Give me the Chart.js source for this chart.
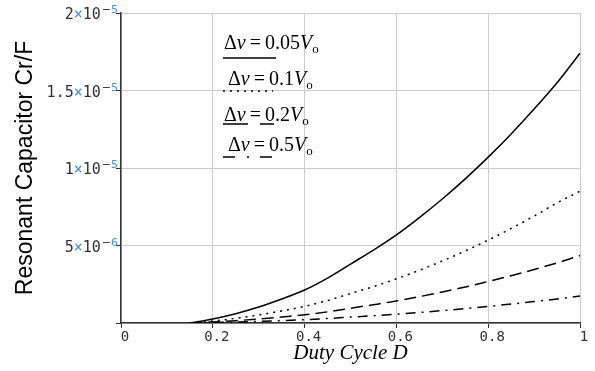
<!DOCTYPE html>
<html>
<head>
<meta charset="utf-8">
<script src="https://cdn.jsdelivr.net/npm/chart.js@4/dist/chart.umd.min.js"></script>
<style>
  html, body { margin: 0; padding: 0; background: #fff; }
  #wrap { width: 595px; height: 371px; position: relative; }
</style>
</head>
<body>
<div id="wrap"><canvas id="chart"></canvas></div>
<script>
// values (Farad)
const dutyCycle = [0.15, 0.2, 0.25, 0.3, 0.35, 0.4, 0.45, 0.5, 0.55, 0.6, 0.65, 0.7, 0.75, 0.8, 0.85, 0.9, 0.95, 1.0];
const crDv005 = [0, 0.26e-6, 0.6e-6, 1.03e-6, 1.55e-6, 2.13e-6, 2.9e-6, 3.8e-6, 4.7e-6, 5.68e-6, 6.8e-6, 8.0e-6, 9.3e-6, 10.7e-6, 12.2e-6, 13.8e-6, 15.5e-6, 17.4e-6];
const crDv01  = [0, 0.13e-6, 0.3e-6, 0.52e-6, 0.78e-6, 1.07e-6, 1.45e-6, 1.9e-6, 2.35e-6, 2.85e-6, 3.4e-6, 4.0e-6, 4.65e-6, 5.35e-6, 6.1e-6, 6.9e-6, 7.75e-6, 8.5e-6];
const crDv02  = [0, 0.07e-6, 0.15e-6, 0.26e-6, 0.39e-6, 0.53e-6, 0.72e-6, 0.95e-6, 1.18e-6, 1.42e-6, 1.7e-6, 2.0e-6, 2.32e-6, 2.68e-6, 3.05e-6, 3.45e-6, 3.88e-6, 4.35e-6];
const crDv05  = [0, 0.03e-6, 0.06e-6, 0.1e-6, 0.16e-6, 0.21e-6, 0.29e-6, 0.38e-6, 0.47e-6, 0.57e-6, 0.68e-6, 0.8e-6, 0.93e-6, 1.07e-6, 1.22e-6, 1.38e-6, 1.55e-6, 1.74e-6];

const legendValues = ['0.05', '0.1', '0.2', '0.5'];

const xTickLabels = ['0', '0.2', '0.4', '0.6', '0.8', '1'];
const yTickValues = [5e-6, 1e-5, 1.5e-5, 2e-5];
const yTickMantissa = ['5', '1', '1.5', '2'];
const yTickExponent = ['6', '5', '5', '5'];

function pts(ys) {
    return dutyCycle.map((d, i) => ({ x: d, y: ys[i] }));
}

// Mathcad style y labels: mantissa ×10 with superscript exponent
const yLabelPlugin = {
    id: 'yLabels',
    afterDraw(chart) {
        const ctx = chart.ctx;
        const y = chart.scales.y;
        ctx.save();
        yTickValues.forEach((v, i) => {
            const py = y.getPixelForValue(v);
            let xr = 118;
            ctx.textBaseline = 'alphabetic';
            ctx.textAlign = 'right';
            ctx.font = '11px "DejaVu Sans"';
            ctx.fillStyle = '#4a90d9';
            ctx.fillText(yTickExponent[i], xr, py);
            xr -= ctx.measureText(yTickExponent[i]).width;
            ctx.fillStyle = '#333';
            ctx.fillText('\u2212', xr, py);
            xr -= ctx.measureText('\u2212').width + 1;
            ctx.font = '15px "DejaVu Sans Mono"';
            ctx.fillStyle = '#333';
            ctx.fillText('10', xr, py + 6);
            xr -= ctx.measureText('10').width;
            ctx.fillStyle = '#4a90d9';
            ctx.fillText('\u00d7', xr, py + 6);
            xr -= ctx.measureText('\u00d7').width;
            ctx.fillStyle = '#333';
            ctx.fillText(yTickMantissa[i], xr, py + 6);
        });
        ctx.restore();
    }
};

// legend written like the equation block in the original
const legendPlugin = {
    id: 'eqLegend',
    afterDraw(chart) {
        const ctx = chart.ctx;
        const rows = [
            { tx: 224, ty: 49, ly: 58, dash: [], x0: 223, x1: 276 },
            { tx: 228, ty: 85, ly: 91, dash: [2, 5], x0: 223, x1: 273 },
            { tx: 224, ty: 121, ly: 124, dash: [25, 12], x0: 223, x1: 274 },
            { tx: 228, ty: 151, ly: 157, dash: [12, 12, 2, 11], x0: 223, x1: 272 }
        ];
        ctx.save();
        ctx.fillStyle = '#000';
        ctx.textBaseline = 'alphabetic';
        ctx.textAlign = 'left';
        rows.forEach((r, i) => {
            let x = r.tx;
            const part = (txt, font, dy) => {
                ctx.font = font;
                ctx.fillText(txt, x, r.ty + (dy || 0));
                x += ctx.measureText(txt).width;
            };
            part('\u0394', '20px "Liberation Serif"');
            part('v', 'italic 20px "Liberation Serif"');
            x += 4;
            part('=', '20px "Liberation Serif"');
            x += 4;
            part(legendValues[i], '20px "Liberation Serif"');
            part('V', 'italic 20px "Liberation Serif"');
            part('o', '13px "Liberation Serif"', 4);

            ctx.strokeStyle = '#000';
            ctx.lineWidth = 1.5;
            ctx.setLineDash(r.dash);
            ctx.beginPath();
            ctx.moveTo(r.x0, r.ly);
            ctx.lineTo(r.x1, r.ly);
            ctx.stroke();
        });
        ctx.restore();
    }
};

const lineStyle = {
    borderColor: '#000',
    borderWidth: 1.5,
    pointRadius: 0,
    fill: false,
    cubicInterpolationMode: 'monotone'
};

new Chart(document.getElementById('chart'), {
    type: 'line',
    data: {
        datasets: [
            Object.assign({ label: '\u0394v = 0.05Vo', data: pts(crDv005), borderDash: [] }, lineStyle),
            Object.assign({ label: '\u0394v = 0.1Vo', data: pts(crDv01), borderDash: [2, 5] }, lineStyle),
            Object.assign({ label: '\u0394v = 0.2Vo', data: pts(crDv02), borderDash: [12, 6] }, lineStyle),
            Object.assign({ label: '\u0394v = 0.5Vo', data: pts(crDv05), borderDash: [10, 6, 2, 6] }, lineStyle)
        ]
    },
    options: {
        responsive: true,
        maintainAspectRatio: false,
        animation: false,
        layout: { padding: { top: 13, right: 15, left: 0, bottom: 0 } },
        plugins: {
            legend: { display: false },
            tooltip: { enabled: false }
        },
        scales: {
            x: {
                type: 'linear',
                min: 0,
                max: 1,
                ticks: {
                    stepSize: 0.2,
                    padding: 1,
                    labelOffset: 4,
                    color: '#333',
                    font: { family: 'DejaVu Sans Mono', size: 14 },
                    callback: (v, i) => xTickLabels[i]
                },
                grid: { color: '#cccccc', lineWidth: 1, tickLength: 5, tickColor: '#333' },
                border: { color: '#333', width: 1.5 },
                title: {
                    display: true,
                    text: 'Duty Cycle D',
                    color: '#000',
                    font: { family: 'Liberation Serif', style: 'italic', size: 21 },
                    padding: { top: 0, bottom: 5 }
                },
                afterFit(s) { s.height = 48; }
            },
            y: {
                min: 0,
                max: 2e-5,
                ticks: { stepSize: 5e-6, display: false },
                grid: { color: '#cccccc', lineWidth: 1, tickLength: 5, tickColor: '#333' },
                border: { color: '#333', width: 1.5 },
                title: {
                    display: true,
                    text: 'Resonant Capacitor Cr/F',
                    color: '#000',
                    font: { family: 'Liberation Sans', size: 23 },
                    padding: { top: 12, bottom: 0 }
                },
                afterFit(s) { s.width = 121; }
            }
        }
    },
    plugins: [yLabelPlugin, legendPlugin]
});
</script>
</body>
</html>
